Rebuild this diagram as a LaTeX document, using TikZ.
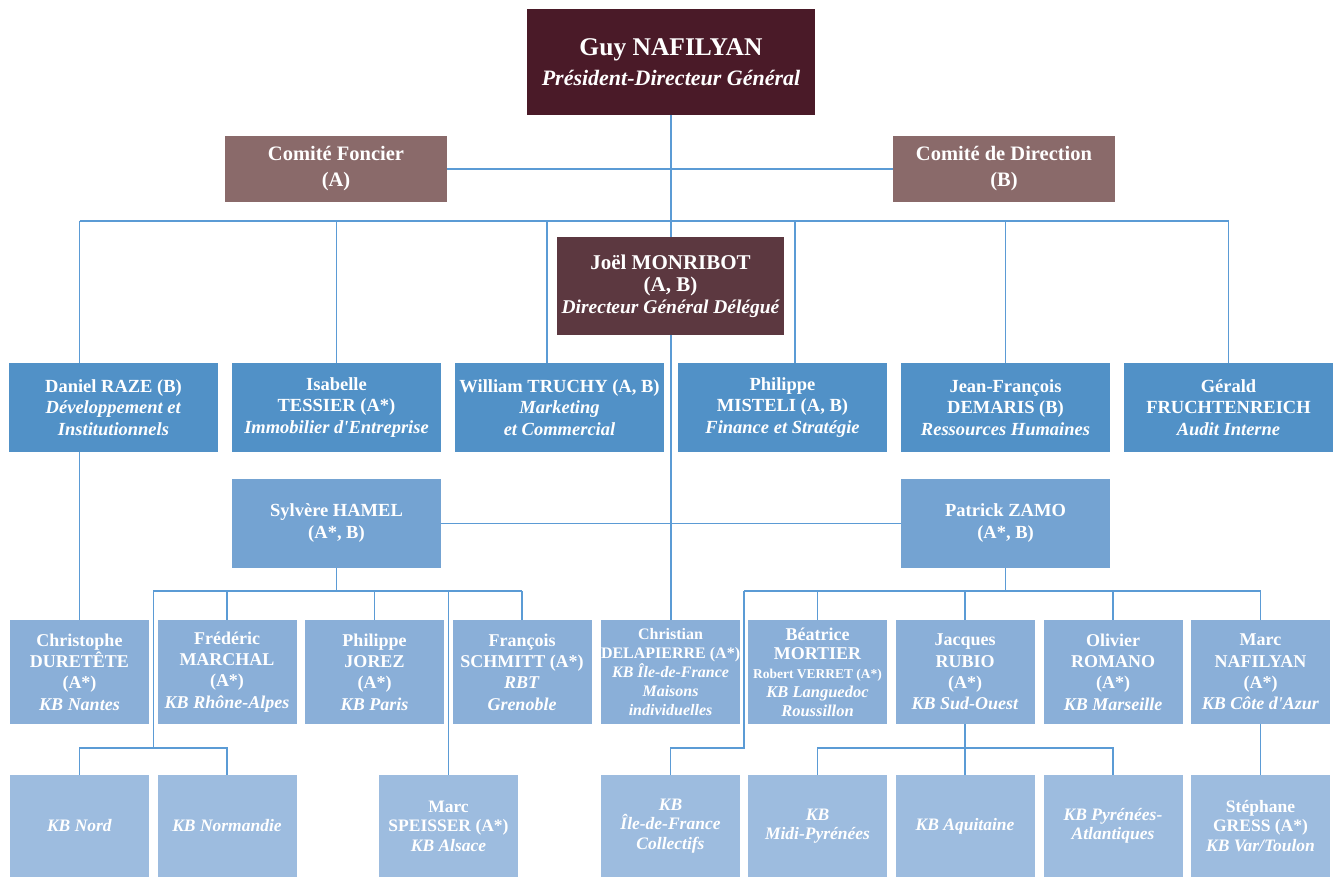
\documentclass[tikz,border=0pt]{standalone}
\usepackage{fontspec}
\setmainfont{Liberation Serif}[Ligatures=TeXOff]
\usetikzlibrary{backgrounds,calc}
\definecolor{cGuy}{HTML}{4A1A28}
\definecolor{cCom}{HTML}{8A6A6A}
\definecolor{cJoel}{HTML}{5C3840}
\definecolor{cLtwo}{HTML}{5191C7}
\definecolor{cLthree}{HTML}{74A3D2}
\definecolor{cLfour}{HTML}{8AAFD8}
\definecolor{cLfive}{HTML}{9DBCDF}
\definecolor{cLine}{HTML}{5B9BD5}
\begin{document}
\begin{tikzpicture}[x=1pt,y=-1pt,
  box/.style={rectangle, anchor=north west, inner sep=0pt, outer sep=0pt, text=white, align=center},
  guybox/.style={box, fill=cGuy, minimum width=288pt, minimum height=106pt, font=\bfseries\fontsize{25.5}{30}\selectfont},
  combox/.style={box, fill=cCom, minimum width=222pt, minimum height=66pt, font=\bfseries\fontsize{20.5}{26}\selectfont},
  joelbox/.style={box, fill=cJoel, minimum width=227pt, minimum height=98pt, font=\bfseries\fontsize{21}{22}\selectfont},
  dirbox/.style={box, fill=cLtwo, minimum width=209pt, minimum height=89pt, font=\bfseries\fontsize{18.5}{21.5}\selectfont},
  regbox/.style={box, fill=cLthree, minimum width=209pt, minimum height=89pt, font=\bfseries\fontsize{18.5}{22}\selectfont},
  kbbox/.style={box, fill=cLfour, minimum width=139pt, minimum height=104pt, font=\bfseries\fontsize{18}{21.3}\selectfont},
  kbsmall/.style={kbbox, font=\bfseries\fontsize{16}{19}\selectfont},
  subbox/.style={box, fill=cLfive, minimum width=139pt, minimum height=102pt, font=\bfseries\fontsize{17.5}{19.5}\selectfont},
  link/.style={draw=cLine, line width=1.5pt},
]
\useasboundingbox (0,0) rectangle (1338,877);

% level 1
\node[guybox] (guy) at (527,9) {Guy NAFILYAN\\{\itshape\fontsize{22}{30}\selectfont Président-Directeur Général}};
\node[combox] (cf) at (225,136) {Comité Foncier\\(A)};
\node[combox] (cd) at (893,136) {Comité de Direction\\(B)};
\node[joelbox] (joel) at (557,237) {Joël MONRIBOT\\(A, B)\\{\itshape\fontsize{19.5}{22}\selectfont Directeur Général Délégué}};

% level 2
\node[dirbox] (daniel) at (9,363) {Daniel RAZE (B)\\\textit{Développement et}\\\textit{Institutionnels}};
\node[dirbox] (isabelle) at (232,363) {Isabelle\\TESSIER (A*)\\\textit{Immobilier d'Entreprise}};
\node[dirbox] (william) at (455,363) {William TRUCHY (A, B)\\\textit{Marketing}\\\textit{et Commercial}};
\node[dirbox] (philippe) at (678,363) {Philippe\\MISTELI (A, B)\\\textit{Finance et Stratégie}};
\node[dirbox] (jf) at (901,363) {Jean-François\\DEMARIS (B)\\\textit{Ressources Humaines}};
\node[dirbox] (gerald) at (1124,363) {Gérald\\FRUCHTENREICH\\\textit{Audit Interne}};

% level 3
\node[regbox] (hamel) at (232,479) {Sylvère HAMEL\\(A*, B)};
\node[regbox] (zamo) at (901,479) {Patrick ZAMO\\(A*, B)};

% level 4
\node[kbbox] (christophe) at (10,620) {Christophe\\DURETÊTE\\(A*)\\\textit{KB Nantes}};
\node[kbbox] (frederic) at (157.5,620) {Frédéric\\MARCHAL\\(A*)\\\textit{KB Rhône-Alpes}};
\node[kbbox] (jorez) at (305,620) {Philippe\\JOREZ\\(A*)\\\textit{KB Paris}};
\node[kbbox] (schmitt) at (452.5,620) {François\\SCHMITT (A*)\\\textit{RBT}\\\textit{Grenoble}};
\node[kbsmall] (christian) at (601,620) {Christian\\DELAPIERRE (A*)\\\textit{KB Île-de-France}\\\textit{Maisons}\\\textit{individuelles}};
\node[kbbox, font=\bfseries\fontsize{18}{19}\selectfont] (beatrice) at (748,620) {Béatrice\\MORTIER\\{\fontsize{13.5}{19}\selectfont Robert VERRET (A*)}\\{\itshape\fontsize{16.5}{19}\selectfont KB Languedoc}\\{\itshape\fontsize{16.5}{19}\selectfont Roussillon}};
\node[kbbox] (rubio) at (895.5,620) {Jacques\\RUBIO\\(A*)\\\textit{KB Sud-Ouest}};
\node[kbbox] (romano) at (1043.5,620) {Olivier\\ROMANO\\(A*)\\\textit{KB Marseille}};
\node[kbbox] (marc) at (1191,620) {Marc\\NAFILYAN\\(A*)\\\textit{KB Côte d'Azur}};

% level 5
\node[subbox] (nord) at (10,775) {\textit{KB Nord}};
\node[subbox] (normandie) at (157.5,775) {\textit{KB Normandie}};
\node[subbox] (speisser) at (379,775) {Marc\\SPEISSER (A*)\\\textit{KB Alsace}};
\node[subbox] (collectifs) at (601,775) {\textit{KB}\\\textit{Île-de-France}\\\textit{Collectifs}};
\node[subbox] (midi) at (748,775) {\textit{KB}\\\textit{Midi-Pyrénées}};
\node[subbox] (aquitaine) at (895.5,775) {\textit{KB Aquitaine}};
\node[subbox] (pyr) at (1043.5,775) {\textit{KB Pyrénées-}\\\textit{Atlantiques}};
\node[subbox] (stephane) at (1191,775) {Stéphane\\GRESS (A*)\\\textit{KB Var/Toulon}};

% bus coordinates
\coordinate (topbus) at (0,221);
\coordinate (hbus) at (0,591);
\coordinate (lbus) at (0,748);
\coordinate (g1) at ($(christophe.north east)!0.5!(frederic.north west)$);
\coordinate (g2) at ($(jorez.north east)!0.5!(schmitt.north west)$);
\coordinate (g3) at ($(christian.north east)!0.5!(beatrice.north west)$);

\begin{scope}[on background layer]
  \draw[link] (guy.south) -- (guy.south |- christian.north);
  \draw[link] (cf.east) -- (cd.west);
  % top bus
  \draw[link] (christophe.north |- topbus) -- (gerald.north |- topbus);
  \draw[link] (christophe.north |- topbus) -- (christophe.north |- daniel.north);
  \draw[link] (isabelle.north |- topbus) -- (isabelle.north);
  \draw[link] ([xshift=-12.5pt]william.north |- topbus) -- ([xshift=-12.5pt]william.north);
  \draw[link] ([xshift=12.5pt]philippe.north |- topbus) -- ([xshift=12.5pt]philippe.north);
  \draw[link] (jf.north |- topbus) -- (jf.north);
  \draw[link] (gerald.north |- topbus) -- (gerald.north);
  % Daniel -> Christophe
  \draw[link] (christophe.north |- daniel.south) -- (christophe.north);
  % Hamel - Zamo
  \draw[link] (hamel.east) -- (zamo.west);
  % Hamel children
  \draw[link] (hamel.south) -- (hamel.south |- hbus);
  \draw[link] (g1 |- hbus) -- (schmitt.north |- hbus);
  \draw[link] (frederic.north |- hbus) -- (frederic.north);
  \draw[link] (jorez.north |- hbus) -- (jorez.north);
  \draw[link] (schmitt.north |- hbus) -- (schmitt.north);
  \draw[link] (g2 |- hbus) -- (g2 |- speisser.north);
  \draw[link] (g1 |- hbus) -- (g1 |- lbus);
  \draw[link] (nord.north) -- (nord.north |- lbus) -- (normandie.north |- lbus) -- (normandie.north);
  % Zamo children
  \draw[link] (zamo.south) -- (zamo.south |- hbus);
  \draw[link] (g3 |- hbus) -- (marc.north |- hbus);
  \draw[link] (beatrice.north |- hbus) -- (beatrice.north);
  \draw[link] (rubio.north |- hbus) -- (rubio.north);
  \draw[link] (romano.north |- hbus) -- (romano.north);
  \draw[link] (marc.north |- hbus) -- (marc.north);
  \draw[link] (g3 |- hbus) -- (g3 |- lbus) -- (collectifs.north |- lbus) -- (collectifs.north);
  % Rubio children
  \draw[link] (rubio.south) -- (aquitaine.north);
  \draw[link] (midi.north) -- (midi.north |- lbus) -- (pyr.north |- lbus) -- (pyr.north);
  % Marc -> Stephane
  \draw[link] (marc.south) -- (stephane.north);
\end{scope}
\end{tikzpicture}
\end{document}
